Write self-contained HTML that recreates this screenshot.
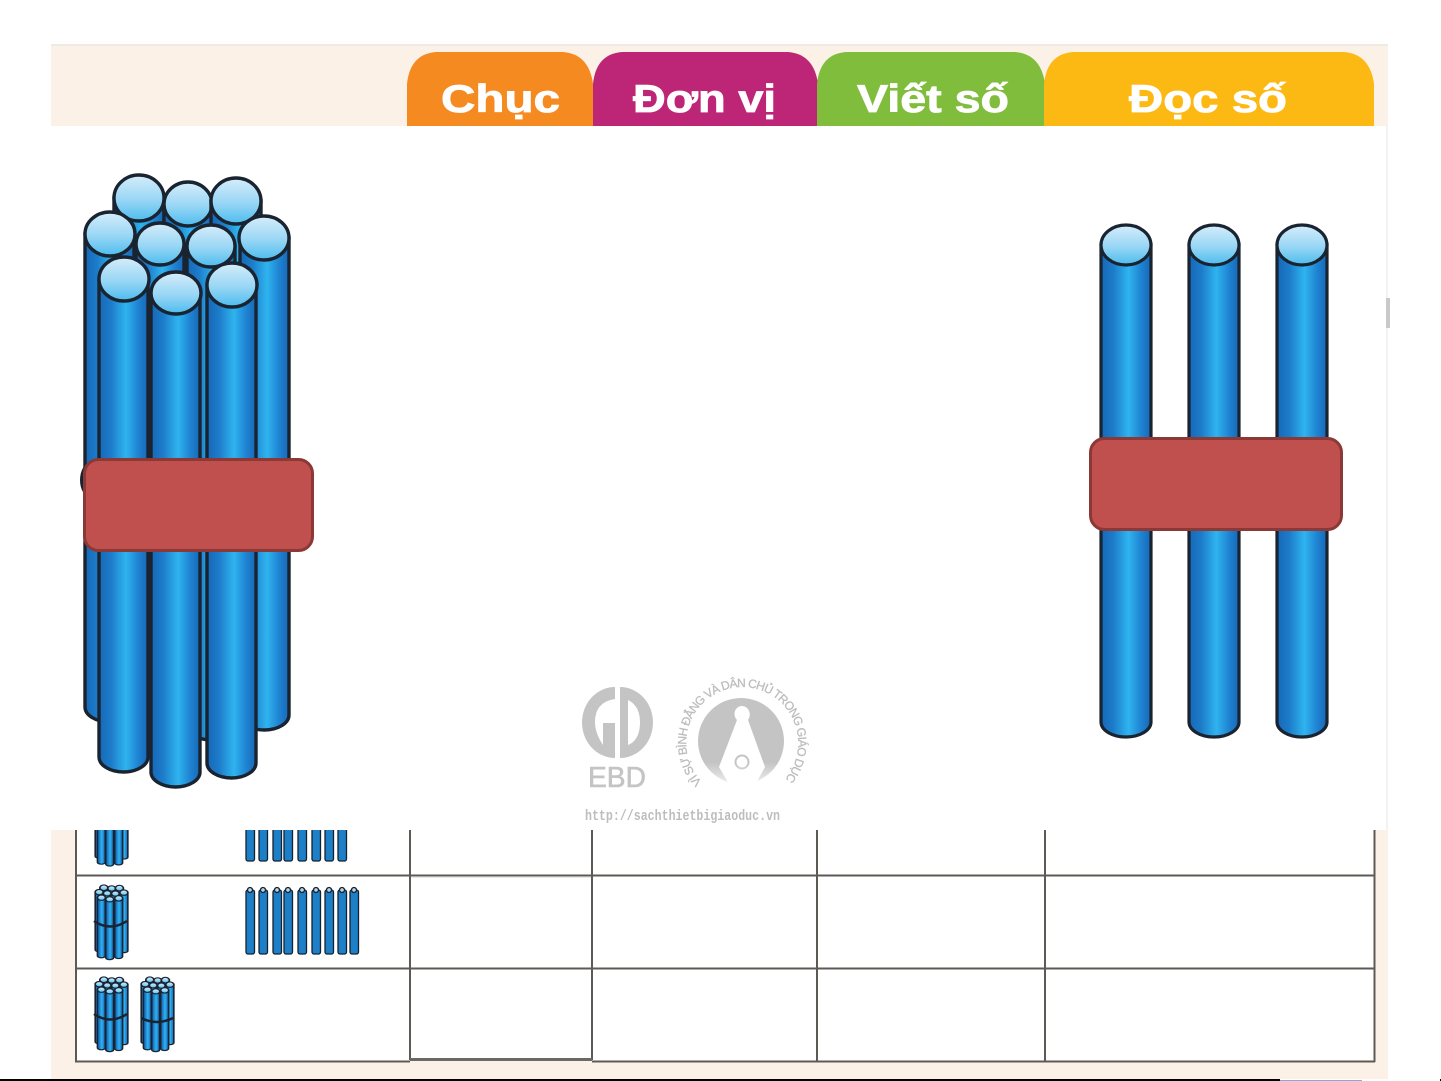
<!DOCTYPE html>
<html><head><meta charset="utf-8"><style>
html,body{margin:0;padding:0;background:#fff;width:1441px;height:1081px;overflow:hidden}
svg{display:block}
text{font-family:"Liberation Sans",sans-serif}
</style></head><body>
<svg width="1441" height="1081" viewBox="0 0 1441 1081" xmlns="http://www.w3.org/2000/svg">
<defs>
<linearGradient id="b" x1="0" x2="1" y1="0" y2="0">
<stop offset="0" stop-color="#1668b8"/><stop offset=".25" stop-color="#1d7cca"/><stop offset=".55" stop-color="#2fb4ef"/><stop offset=".8" stop-color="#1f83d2"/><stop offset="1" stop-color="#1668b8"/>
</linearGradient>
<linearGradient id="c" x1="0" x2="0" y1="0" y2="1">
<stop offset="0" stop-color="#d6edfa"/><stop offset=".55" stop-color="#97d6f5"/><stop offset="1" stop-color="#4dbcee"/>
</linearGradient>
<linearGradient id="fade" x1="0" x2="0" y1="0" y2="1">
<stop offset="0" stop-color="#fff" stop-opacity="0"/><stop offset="1" stop-color="#fff"/>
</linearGradient>
<clipPath id="tbl"><rect x="76" y="830" width="1300" height="235"/></clipPath>
<g id="bundle" stroke="#1a2430">
<path d="M114 198V600H164V198Z" fill="url(#b)"/><ellipse cx="139" cy="198" rx="25" ry="23" fill="url(#c)"/>
<path d="M164 204V600H212V204Z" fill="url(#b)"/><ellipse cx="188" cy="204" rx="24" ry="22" fill="url(#c)"/>
<path d="M211 201V600H261V201Z" fill="url(#b)"/><ellipse cx="236" cy="201" rx="25" ry="23" fill="url(#c)"/>
<path d="M85 234V707A24.500 15 0 0 0 134 707V234Z" fill="url(#b)"/><ellipse cx="110" cy="234" rx="25" ry="22" fill="url(#c)"/>
<path d="M240 238V715A24.500 15 0 0 0 289 715V238Z" fill="url(#b)"/><ellipse cx="264" cy="238" rx="25" ry="22" fill="url(#c)"/>
<path d="M136 244V725A24 15 0 0 0 184 725V244Z" fill="url(#b)"/><ellipse cx="160" cy="244" rx="24" ry="21" fill="url(#c)"/>
<path d="M187 246V725A24 15 0 0 0 235 725V246Z" fill="url(#b)"/><ellipse cx="211" cy="246" rx="24" ry="21" fill="url(#c)"/>
<path d="M99 279V757A24.500 15 0 0 0 148 757V279Z" fill="url(#b)"/><ellipse cx="124" cy="279" rx="25" ry="22" fill="url(#c)"/>
<path d="M207 285V763A24.500 15 0 0 0 256 763V285Z" fill="url(#b)"/><ellipse cx="232" cy="285" rx="25" ry="22" fill="url(#c)"/>
<path d="M151 293V772A24.500 15 0 0 0 200 772V293Z" fill="url(#b)"/><ellipse cx="176" cy="293" rx="25" ry="21" fill="url(#c)"/>
</g>
<g id="rod" stroke="#1a2430" stroke-width="3.200">
<path d="M-25 245V722A25 15 0 0 0 25 722V245Z" fill="url(#b)"/><ellipse cx="0" cy="245" rx="25" ry="20" fill="url(#c)"/>
</g>
<g id="m" stroke="#16222e" stroke-width="1.300">
<rect x="-4" y="0" width="8.500" height="64" rx="2" fill="#1c7fc8"/><circle cx="0" cy="0" r="2.500" fill="#b9d3e2"/>
</g>
<path id="ring" d="M702 782A56 56 0 1 1 786 778"/>
</defs>

<!-- panel backgrounds -->
<rect x="51" y="44" width="1337" height="82" fill="#fbf1e6"/>
<rect x="51" y="44" width="1337" height="2" fill="#eeeae5"/>
<rect x="51" y="830" width="1337" height="249" fill="#fbf1e6"/>
<rect x="76" y="830" width="1298" height="231" fill="#fff"/>
<rect x="1386" y="126" width="2" height="704" fill="#f2f2f2"/>
<rect x="1386" y="298" width="4" height="30" fill="#c9c9c9"/>

<!-- tabs -->
<path d="M407 126V84Q410 54 436 52H563Q589 54 593 84V126Z" fill="#f58a20"/>
<path d="M593 126V84Q596 54 622 52H788Q814 54 818 84V126Z" fill="#bd2677"/>
<path d="M817 126V84Q820 54 846 52H1015Q1041 54 1045 84V126Z" fill="#80bd3c"/>
<path d="M1044 126V84Q1047 54 1073 52H1344Q1370 54 1374 84V126Z" fill="#fdb913"/>
<g fill="#fff" font-weight="700" font-size="39" stroke="#fff" stroke-width=".8">
<text x="441" y="112" textLength="119" lengthAdjust="spacingAndGlyphs">Chục</text>
<text x="633" y="112" textLength="143" lengthAdjust="spacingAndGlyphs">Đơn vị</text>
<text x="857" y="112" textLength="152" lengthAdjust="spacingAndGlyphs">Viết số</text>
<text x="1129" y="112" textLength="158" lengthAdjust="spacingAndGlyphs">Đọc số</text>
</g>

<!-- main bundle -->
<ellipse cx="90" cy="480" rx="10" ry="17" fill="#1a2430"/>
<use href="#bundle" stroke-width="3.400"/>
<rect x="84.500" y="459.500" width="228" height="91" rx="14" fill="#c0504d" stroke="#8c3836" stroke-width="3"/>

<!-- three rods -->
<use href="#rod" x="1126"/>
<use href="#rod" x="1214"/>
<use href="#rod" x="1302"/>
<rect x="1090.500" y="438.500" width="251" height="91" rx="14" fill="#c0504d" stroke="#8c3836" stroke-width="3"/>

<!-- watermark -->
<g fill="#c4c4c4">
<path d="M615 687A33 35.500 0 0 0 615 758V723H603V745Q595 733 595 722Q595 702 615 699Z"/>
<path d="M620 687A33 35.500 0 0 1 620 758Z M628 700Q640 706 640 722Q640 740 628 745Z" fill-rule="evenodd"/>
<text x="588" y="787" font-size="29" stroke="#c4c4c4" stroke-width=".6" textLength="58" lengthAdjust="spacingAndGlyphs">EBD</text>
<circle cx="741" cy="741" r="43"/>
</g>
<path d="M742 706C735 706 732 715 737 720L719 767L736 796H749L765 767L748 720C752 715 749 706 742 706Z" fill="#fff"/>
<circle cx="742" cy="762" r="6.500" fill="none" stroke="#c4c4c4" stroke-width="2"/>
<rect x="690" y="762" width="104" height="30" fill="url(#fade)"/>
<text font-size="12" fill="#bdbdbd" stroke="#bdbdbd" stroke-width=".3" letter-spacing="-.8"><textPath href="#ring">VÌ SỰ BÌNH ĐẲNG VÀ DÂN CHỦ TRONG GIÁO DỤC</textPath></text>
<text x="585" y="820" font-size="15" font-weight="700" fill="#bdbdbd" style="font-family:'Liberation Mono',monospace" textLength="195" lengthAdjust="spacingAndGlyphs">http://sachthietbigiaoduc.vn</text>

<!-- table -->
<g clip-path="url(#tbl)">
<use href="#bundle" stroke-width="10" transform="translate(81.600 770) scale(.16 .122)"/>
<use href="#m" x="250" y="797"/><use href="#m" x="263" y="797"/><use href="#m" x="277" y="797"/><use href="#m" x="288" y="797"/><use href="#m" x="302" y="797"/><use href="#m" x="316" y="797"/><use href="#m" x="329" y="797"/><use href="#m" x="342" y="797"/>
</g>
<use href="#bundle" stroke-width="10" transform="translate(81.600 863.600) scale(.16 .122)"/>
<path d="M94 921Q110 932 127 921" fill="none" stroke="#1a2430" stroke-width="2.500"/>
<use href="#m" x="250" y="890"/><use href="#m" x="263" y="890"/><use href="#m" x="277" y="890"/><use href="#m" x="288" y="890"/><use href="#m" x="302" y="890"/><use href="#m" x="316" y="890"/><use href="#m" x="329" y="890"/><use href="#m" x="342" y="890"/><use href="#m" x="354" y="890"/>
<use href="#bundle" stroke-width="10" transform="translate(81.600 955.600) scale(.16 .122)"/>
<path d="M94 1014Q110 1025 127 1014" fill="none" stroke="#1a2430" stroke-width="2.500"/>
<use href="#bundle" stroke-width="10" transform="translate(127.600 955.600) scale(.16 .122)"/>
<path d="M141 1018Q157 1026 173 1018" fill="none" stroke="#1a2430" stroke-width="2.500"/>

<g stroke="#5d5a56" stroke-width="2" fill="none">
<path d="M76 830V1062M410 830V1060M592 830V1060M817 830V1062M1045 830V1062M1374.500 830V1062"/>
<path d="M75 875.500H1375M75 968.500H1375M75 1061.500H410M592 1061.500H1375"/>
</g>
<rect x="410" y="1058" width="182" height="3" fill="#6b6966"/>
<rect x="411" y="877" width="180" height="1" fill="#e8e8e8"/>

<!-- bottom line -->
<rect x="0" y="1079" width="1280" height="2" fill="#000"/>
<rect x="1280" y="1080" width="82" height="1" fill="#8fa8d8"/>
<rect x="1440" y="1079" width="1" height="2" fill="#000"/>
</svg>
</body></html>
